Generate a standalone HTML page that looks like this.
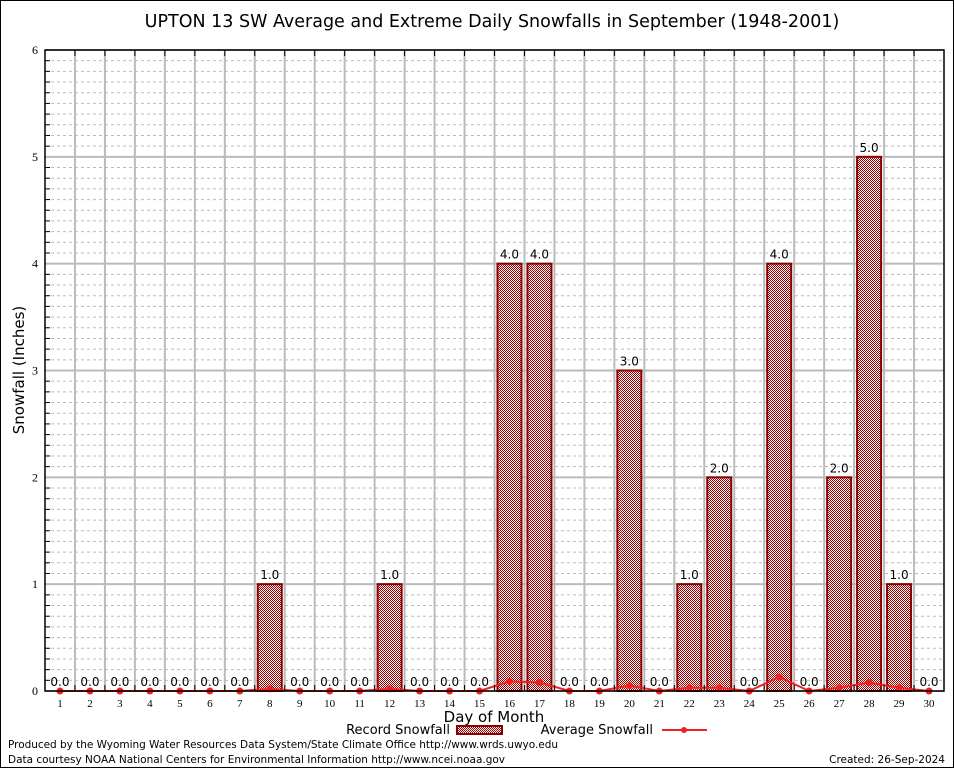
<!DOCTYPE html>
<html><head><meta charset="utf-8"><style>
body{margin:0;background:#fff;}
svg{display:block;font-family:"DejaVu Sans","Liberation Sans",sans-serif;}
</style></head><body>
<svg id="c" width="954" height="768" viewBox="0 0 954 768">
<defs><pattern id="chk" width="2" height="2" patternUnits="userSpaceOnUse"><rect width="2" height="2" fill="#fff"/><rect width="1" height="1" fill="#a00000"/><rect x="1" y="1" width="1" height="1" fill="#a00000"/></pattern></defs>
<rect x="0.5" y="0.5" width="953" height="767" fill="#fff" stroke="#000"/>
<text x="492" y="27" font-size="17.5" text-anchor="middle">UPTON 13 SW Average and Extreme Daily Snowfalls in September (1948-2001)</text>
<g id="grid"></g><g id="bars"></g><g id="line"></g><g id="axes"></g>
<text transform="translate(24,370) rotate(-90)" font-size="15" text-anchor="middle">Snowfall (Inches)</text>
<text x="494" y="722" font-size="15" text-anchor="middle">Day of Month</text>
<g><text x="450" y="734" font-size="13" text-anchor="end">Record Snowfall</text><rect x="457" y="726" width="45" height="8" fill="url(#chk)" stroke="#8b0000" stroke-width="2"/></g>
<g><text x="653" y="734" font-size="13" text-anchor="end">Average Snowfall</text><line x1="662" y1="730" x2="707" y2="730" stroke="#f02020" stroke-width="2"/><circle cx="684" cy="730" r="3" fill="#f02020"/></g>
<text x="8" y="748" font-size="10.5" textLength="550">Produced by the Wyoming Water Resources Data System/State Climate Office http://www.wrds.uwyo.edu</text>
<text x="8" y="763" font-size="10.5" textLength="497">Data courtesy NOAA National Centers for Environmental Information http://www.ncei.noaa.gov</text>
<text x="945" y="763" font-size="10.5" text-anchor="end">Created: 26-Sep-2024</text>
</svg>
<script>
const days=[1,2,3,4,5,6,7,8,9,10,11,12,13,14,15,16,17,18,19,20,21,22,23,24,25,26,27,28,29,30];
const record=[0,0,0,0,0,0,0,1,0,0,0,1,0,0,0,4,4,0,0,3,0,1,2,0,4,0,2,5,1,0];
const average=[0,0,0,0,0,0,0,0.02,0,0,0,0.02,0,0,0,0.09,0.08,0,0,0.05,0,0.03,0.03,0,0.13,0,0.03,0.08,0.03,0];
const yTicks=[0,1,2,3,4,5,6];
const NS='http://www.w3.org/2000/svg';
const L=45,R=944,T=50,B=691,ymax=6;
const bw=(R-L)/days.length;
function xs(d){return L+(d-0.5)*bw;}
function ys(v){return B-(v/ymax)*(B-T);}
function mk(tag,attrs,parent){const e=document.createElementNS(NS,tag);for(const k in attrs)e.setAttribute(k,attrs[k]);parent.appendChild(e);return e;}
const grid=document.getElementById('grid'),bars=document.getElementById('bars'),line=document.getElementById('line'),axes=document.getElementById('axes');
for(let i=1;i<ymax*10;i++){if(i%10===0)continue;const y=ys(i/10);
const g=mk('line',{x1:L,x2:R,y1:y,y2:y,stroke:'#bbb','stroke-dasharray':'3,3','stroke-width':1},grid);

const t=mk('line',{x1:L,x2:L+5,y1:y,y2:y,stroke:'#000'},axes);}
yTicks.forEach(v=>{const y=ys(v);
const g=mk('line',{x1:L,x2:R,y1:y,y2:y,stroke:'#bbb','stroke-width':2},grid);

const t=mk('text',{x:L-7,y:y+4,'font-size':12,'text-anchor':'end','font-family':'Liberation Serif,serif'},axes);t.textContent=v;
});
for(let i=1;i<days.length;i++){const x=L+i*bw;
const g=mk('line',{x1:x,x2:x,y1:T,y2:B,stroke:'#bbb','stroke-width':2},grid);

const t=mk('line',{x1:x,x2:x,y1:T,y2:T+6,stroke:'#000'},axes);
const t2=mk('line',{x1:x,x2:x,y1:B,y2:B-6,stroke:'#000'},axes);}
days.forEach((d,i)=>{const x=xs(d),v=record[i];
if(v>0){const r=mk('rect',{x:x-12,y:ys(v),width:24,height:B-ys(v),fill:'url(#chk)',stroke:'#8b0000','stroke-width':2},bars);
}
const lb=mk('text',{x:x,y:ys(v)-5,'font-size':12,'text-anchor':'middle'},bars);lb.textContent=v.toFixed(1);

const xl=mk('text',{x:x,y:B+16,'font-size':11,'text-anchor':'middle','font-family':'Liberation Serif,serif'},axes);xl.textContent=d;
});
const pl=mk('polyline',{points:days.map((d,i)=>xs(d)+','+ys(average[i])).join(' '),fill:'none',stroke:'#f02020','stroke-width':2},line);

days.forEach((d,i)=>{const c=mk('circle',{cx:xs(d),cy:ys(average[i]),r:3.5,fill:'#f02020'},line);
});
const fr=mk('rect',{x:L,y:T,width:R-L,height:B-T,fill:'none',stroke:'#000','stroke-width':1.5},axes);

</script>
</body></html>
